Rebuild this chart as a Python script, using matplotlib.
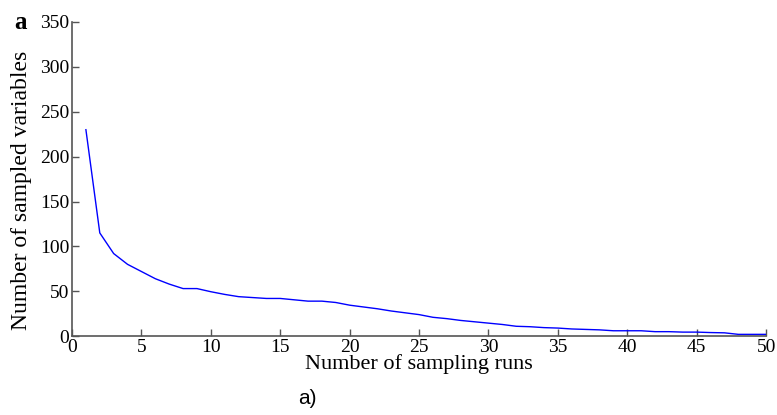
import matplotlib
matplotlib.use("Agg")
import matplotlib.pyplot as plt

# number of sampling runs
runs = list(range(1, 51))
# number of sampled variables
sampled = [230, 115, 92, 80, 72, 64, 58, 53, 53, 49.5,
           46.5, 44, 43, 42, 42, 40.5, 39, 39, 37.5, 34.5,
           32.5, 30.5, 28, 26, 24, 21, 19.5, 17.5, 16, 14.5,
           13, 11, 10.5, 9.5, 9, 8, 7.5, 7, 6, 6,
           6, 5, 5, 4.5, 4.5, 4, 3.7, 2, 2, 2]

xticks = [0, 5, 10, 15, 20, 25, 30, 35, 40, 45, 50]
yticks = [0, 50, 100, 150, 200, 250, 300, 350]


def main():
    plt.rcParams['font.family'] = ['Liberation Serif', 'DejaVu Serif']
    fig = plt.figure(figsize=(7.77, 4.15), dpi=100)
    ax = fig.add_axes([0.0927, 0.190, 0.8933, 0.757])

    ax.plot(runs, sampled, color='#0000ff', lw=1.0)

    ax.set_xlim(0, 50)
    ax.set_ylim(0, 350)
    ax.set_xticks(xticks)
    ax.set_yticks(yticks)
    ax.spines['top'].set_visible(False)
    ax.spines['right'].set_visible(False)
    for s in ['left', 'bottom']:
        ax.spines[s].set_color('#555555')
        ax.spines[s].set_linewidth(1.2)
    ax.tick_params(direction='in', length=5, width=1.0, color='#555555',
                   labelsize=14, pad=2)

    ax.set_xlabel("Number of sampling runs", fontsize=16, labelpad=-1)
    fig.text(0.028, 0.542, "Number of sampled variables", fontsize=17,
             rotation=90, ha='center', va='center')

    fig.text(0.026, 0.945, "a", fontsize=18, fontweight='bold',
             ha='center', va='center')
    fig.text(0.395, 0.04, "a)", fontsize=15, family='Liberation Sans',
             ha='center', va='center')

    fig.savefig("out.png", dpi=100)


if __name__ == "__main__":
    main()
